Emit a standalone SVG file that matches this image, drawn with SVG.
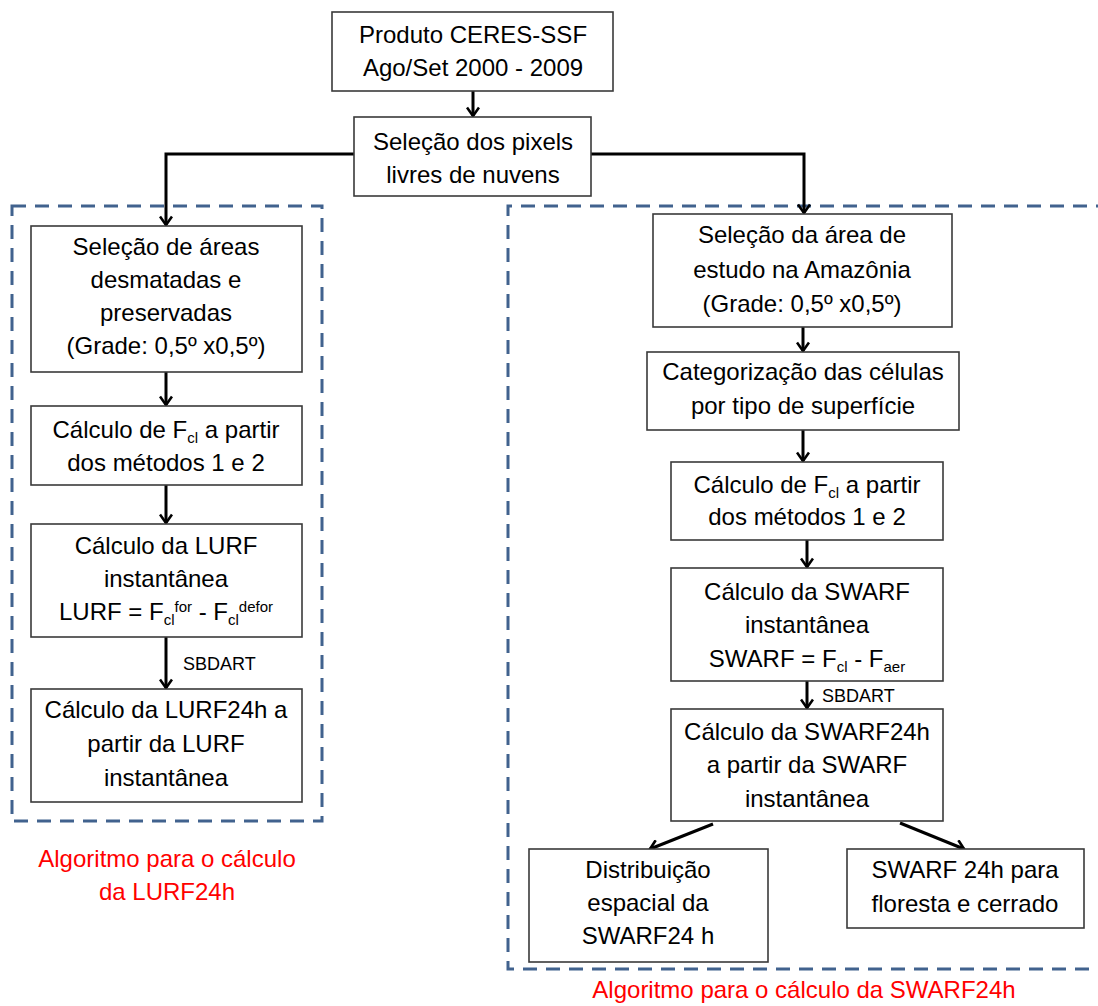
<svg xmlns="http://www.w3.org/2000/svg" width="1098" height="1006" viewBox="0 0 1098 1006">
<style>
.box{fill:#fff;stroke:#3a3a3a;stroke-width:1.6}
.t{font-family:"Liberation Sans",Arial,sans-serif;font-size:24px;fill:#000;text-anchor:middle}
.s{font-size:15px}
.lab{font-family:"Liberation Sans",Arial,sans-serif;font-size:18px;fill:#000}
.red{font-family:"Liberation Sans",Arial,sans-serif;font-size:24px;fill:#ff0000;text-anchor:middle}
.dash{fill:none;stroke:#41628e;stroke-width:3;stroke-dasharray:14 9}
.c{fill:none;stroke:#000;stroke-width:3}
</style>
<defs>
<marker id="ah" viewBox="0 0 14 14" refX="12.5" refY="7" markerWidth="14" markerHeight="14" markerUnits="userSpaceOnUse" orient="auto">
<path d="M4,1 L12.5,7 L4,13" fill="none" stroke="#000" stroke-width="2.6"/>
</marker>
</defs>
<g id="groups">
<rect id="left-group" class="dash" x="12" y="206" width="310" height="615"/>
<path id="right-group" class="dash" d="M1110,206 H508 V969 H1110"/>
</g>
<g id="connectors">
<path class="c" d="M473,91 V116" marker-end="url(#ah)"/>
<path class="c" d="M354,154 H166 V225" marker-end="url(#ah)"/>
<path class="c" d="M591,154 H804 V213" marker-end="url(#ah)"/>
<path class="c" d="M166,372 V405" marker-end="url(#ah)"/>
<path class="c" d="M166,485 V523" marker-end="url(#ah)"/>
<path class="c" d="M166,637 V688" marker-end="url(#ah)"/>
<text class="lab" x="183" y="670">SBDART</text>
<path class="c" d="M803,327 V351" marker-end="url(#ah)"/>
<path class="c" d="M803,430 V461" marker-end="url(#ah)"/>
<path class="c" d="M807,540 V567" marker-end="url(#ah)"/>
<path class="c" d="M807,681 V708" marker-end="url(#ah)"/>
<text class="lab" x="822" y="702">SBDART</text>
<path class="c" d="M713,824 L650,849" marker-end="url(#ah)"/>
<path class="c" d="M900,823 L964,849" marker-end="url(#ah)"/>
</g>
<g id="n-ceres">
<rect class="box" x="332" y="12" width="281" height="79"/>
<text class="t" x="473" y="43">Produto CERES-SSF</text>
<text class="t" x="473" y="76">Ago/Set 2000 - 2009</text>
</g>
<g id="n-selecao-pixels">
<rect class="box" x="354" y="117" width="237" height="79"/>
<text class="t" x="473" y="150">Seleção dos pixels</text>
<text class="t" x="473" y="183">livres de nuvens</text>
</g>
<g id="n-areas">
<rect class="box" x="31" y="226" width="271" height="146"/>
<text class="t" x="166" y="255">Seleção de áreas</text>
<text class="t" x="166" y="288">desmatadas e</text>
<text class="t" x="166" y="321">preservadas</text>
<text class="t" x="166" y="354">(Grade: 0,5º x0,5º)</text>
</g>
<g id="n-fcl-left">
<rect class="box" x="31" y="406" width="271" height="79"/>
<text class="t" x="166" y="438">Cálculo de F<tspan class="s" dy="5">cl</tspan><tspan dy="-5"> a partir</tspan></text>
<text class="t" x="166" y="471">dos métodos 1 e 2</text>
</g>
<g id="n-lurf">
<rect class="box" x="31" y="524" width="271" height="113"/>
<text class="t" x="166" y="554">Cálculo da LURF</text>
<text class="t" x="166" y="587">instantânea</text>
<text class="t" x="166" y="620">LURF = F<tspan class="s" dy="5">cl</tspan><tspan class="s" dy="-13">for</tspan><tspan dy="8"> - F</tspan><tspan class="s" dy="5">cl</tspan><tspan class="s" dy="-13">defor</tspan></text>
</g>
<g id="n-lurf24">
<rect class="box" x="31" y="689" width="271" height="113"/>
<text class="t" x="166" y="718">Cálculo da LURF24h a</text>
<text class="t" x="166" y="752">partir da LURF</text>
<text class="t" x="166" y="786">instantânea</text>
</g>
<g id="n-area-estudo">
<rect class="box" x="653" y="214" width="299" height="113"/>
<text class="t" x="802" y="243">Seleção da área de</text>
<text class="t" x="802" y="278">estudo na Amazônia</text>
<text class="t" x="802" y="312">(Grade: 0,5º x0,5º)</text>
</g>
<g id="n-categorizacao">
<rect class="box" x="647" y="352" width="312" height="78"/>
<text class="t" x="803" y="380">Categorização das células</text>
<text class="t" x="803" y="414">por tipo de superfície</text>
</g>
<g id="n-fcl-right">
<rect class="box" x="671" y="462" width="272" height="78"/>
<text class="t" x="807" y="493">Cálculo de F<tspan class="s" dy="5">cl</tspan><tspan dy="-5"> a partir</tspan></text>
<text class="t" x="807" y="525">dos métodos 1 e 2</text>
</g>
<g id="n-swarf">
<rect class="box" x="671" y="568" width="272" height="113"/>
<text class="t" x="807" y="600">Cálculo da SWARF</text>
<text class="t" x="807" y="633">instantânea</text>
<text class="t" x="807" y="667">SWARF = F<tspan class="s" dy="5">cl</tspan><tspan dy="-5"> - F</tspan><tspan class="s" dy="5">aer</tspan></text>
</g>
<g id="n-swarf24">
<rect class="box" x="671" y="709" width="272" height="112"/>
<text class="t" x="807" y="740">Cálculo da SWARF24h</text>
<text class="t" x="807" y="773">a partir da SWARF</text>
<text class="t" x="807" y="807">instantânea</text>
</g>
<g id="n-distribuicao">
<rect class="box" x="529" y="849" width="239" height="113"/>
<text class="t" x="648" y="878">Distribuição</text>
<text class="t" x="648" y="911">espacial da</text>
<text class="t" x="648" y="944">SWARF24 h</text>
</g>
<g id="n-floresta">
<rect class="box" x="847" y="849" width="237" height="79"/>
<text class="t" x="965" y="878">SWARF 24h para</text>
<text class="t" x="965" y="912">floresta e cerrado</text>
</g>
<g id="labels">
<text class="red" x="167" y="867">Algoritmo para o cálculo</text>
<text class="red" x="167" y="900">da LURF24h</text>
<text class="red" x="804" y="998">Algoritmo para o cálculo da SWARF24h</text>
</g>
</svg>
